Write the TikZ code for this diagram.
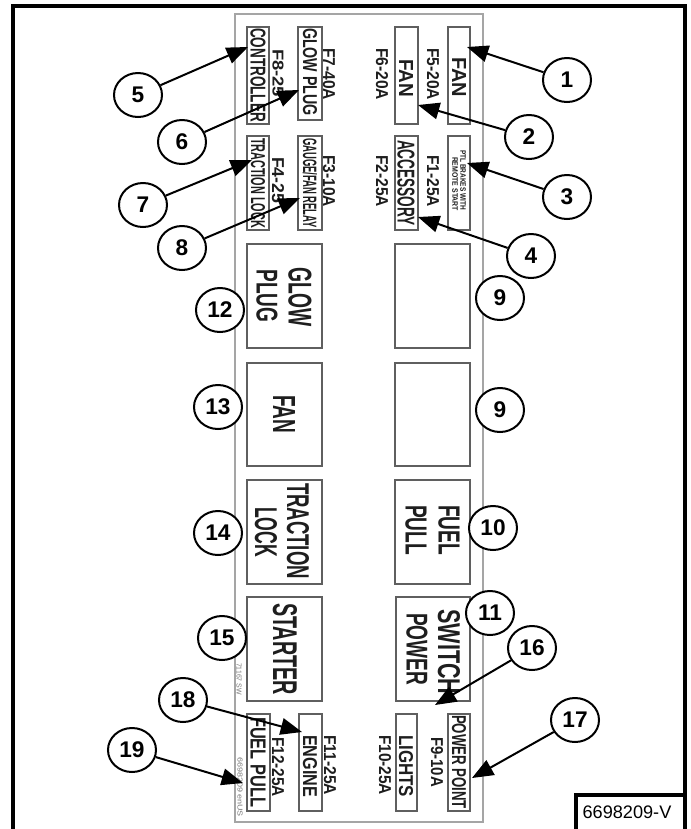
\documentclass[tikz,border=0pt]{standalone}
\usepackage{fontspec}
\setmainfont{Liberation Sans}
\usepackage{graphicx}
\usetikzlibrary{arrows.meta,shapes.geometric,fit}
\newlength\pxu \setlength\pxu{0.75pt}
\newcommand\rt[3]{\resizebox{#1\pxu}{#2\pxu}{\textbf{#3}}}
\newcommand\rtn[3]{\resizebox{#1\pxu}{#2\pxu}{#3}}
\definecolor{panelgray}{RGB}{165,165,165}
\definecolor{boxgray}{RGB}{95,95,95}
\definecolor{inkgray}{RGB}{30,30,30}
\definecolor{tinygray}{RGB}{120,120,120}
\begin{document}
\begin{tikzpicture}[x=0.75pt,y=-0.75pt,
  fbox/.style={draw=boxgray,line width=1.1pt,inner sep=0pt},
  lbl/.style={rotate=-90,inner sep=0pt,text=inkgray},
  tiny/.style={rotate=-90,inner sep=0pt,text=tinygray},
  callout/.style={ellipse,draw=black,fill=white,line width=1.5pt,minimum width=36pt,minimum height=33pt,inner sep=0pt,font=\fontsize{17}{17}\selectfont\bfseries},
  ptr/.style={line width=1.5pt,-{Triangle[length=16pt,width=12.5pt]}},
]
\useasboundingbox (0,0) rectangle (691,829);
\fill[white] (0,0) rectangle (691,829);
% outer frame
\draw[line width=2.4pt,line join=miter] (13,831) -- (13,6) -- (685,6) -- (685,831);
\draw[line width=2.4pt] (576,831) -- (576,795) -- (685,795);
\node[inner sep=0pt] (code) at (627,812) {\fontsize{13.6}{14}\selectfont 6698209-V};
% panel
\node[draw=panelgray,line width=1.5pt,inner sep=0pt,fit={(235,14) (483,822)}] (panel) {};
% ---------- top row of fuses ----------
\node[fbox,fit={(247,27) (269,124)}] (b8) {};
\node[lbl] (l8) at (258,75) {\rt{94}{15}{CONTROLLER}};
\node[lbl] (f8) at (278,73) {\rt{48}{11}{F8-25}};
\node[fbox,fit={(298,27) (322,120)}] (b7) {};
\node[lbl] (l7) at (310,72) {\rt{88}{14}{GLOW PLUG}};
\node[lbl] (f7) at (329,74) {\rt{52}{12}{F7-40A}};
\node[fbox,fit={(395,27) (418,124)}] (b6) {};
\node[lbl] (l6) at (406,78) {\rt{38}{14}{FAN}};
\node[lbl] (f6) at (382,74) {\rt{52}{12}{F6-20A}};
\node[fbox,fit={(448,27) (470,124)}] (b5) {};
\node[lbl] (l5) at (459,77) {\rt{40}{14}{FAN}};
\node[lbl] (f5) at (433,74) {\rt{52}{12}{F5-20A}};
% ---------- second row ----------
\node[fbox,fit={(247,136) (269,230)}] (b4) {};
\node[lbl] (l4) at (258,183) {\rt{90}{14}{TRACTION LOCK}};
\node[lbl] (f4) at (278,180) {\rt{46}{12}{F4-25}};
\node[fbox,fit={(298,136) (322,230)}] (b3) {};
\node[lbl] (l3) at (310,183) {\rt{90}{14}{GAUGE/FAN RELAY}};
\node[lbl] (f3) at (329,181) {\rt{52}{12}{F3-10A}};
\node[fbox,fit={(395,136) (418,230)}] (b2) {};
\node[lbl] (l2) at (406,183) {\rt{86}{17}{ACCESSORY}};
\node[lbl] (f2) at (382,181) {\rt{52}{12}{F2-25A}};
\node[fbox,fit={(448,136) (470,230)}] (b1) {};
\node[lbl] (l1a) at (463,180) {\rt{60}{5.5}{PTL BRAKES WITH}};
\node[lbl] (l1b) at (455,184) {\rt{54}{5.5}{REMOTE START}};
\node[lbl] (f1) at (433,181) {\rt{52}{12}{F1-25A}};
% ---------- relays ----------
\node[fbox,fit={(247,244) (322,348)}] (rGlow) {};
\node[lbl] (rGlowA) at (300,297) {\rt{60}{23}{GLOW}};
\node[lbl] (rGlowB) at (267,296) {\rt{53}{21}{PLUG}};
\node[fbox,fit={(395,244) (470,348)}] (rE1) {};
\node[fbox,fit={(247,363) (322,466)}] (rFan) {};
\node[lbl] (rFanA) at (284,414) {\rt{38}{22}{FAN}};
\node[fbox,fit={(395,363) (470,466)}] (rE2) {};
\node[fbox,fit={(247,480) (322,584)}] (rTrac) {};
\node[lbl] (rTracA) at (298,531) {\rt{96}{22}{TRACTION}};
\node[lbl] (rTracB) at (266,532) {\rt{50}{22}{LOCK}};
\node[fbox,fit={(395,480) (470,584)}] (rFuel) {};
\node[lbl] (rFuelA) at (449,530) {\rt{50}{21}{FUEL}};
\node[lbl] (rFuelB) at (416,530) {\rt{50}{21}{PULL}};
\node[fbox,fit={(247,597) (322,701)}] (rStart) {};
\node[lbl] (rStartA) at (285,649) {\rt{92}{24}{STARTER}};
\node[fbox,fit={(396,597) (470,701)}] (rSw) {};
\node[lbl] (rSwA) at (449,652) {\rt{85}{22}{SWITCH}};
\node[lbl] (rSwB) at (417,649) {\rt{72}{21}{POWER}};
% ---------- bottom row ----------
\node[fbox,fit={(247,714) (270,811)}] (b12) {};
\node[lbl] (l12) at (258,762) {\rt{90}{15}{FUEL PULL}};
\node[lbl] (f12) at (278,767) {\rt{60}{12}{F12-25A}};
\node[fbox,fit={(299,714) (322,811)}] (b11) {};
\node[lbl] (l11) at (310,766) {\rt{62}{14}{ENGINE}};
\node[lbl] (f11) at (330,765) {\rt{60}{12}{F11-25A}};
\node[fbox,fit={(396,714) (417,811)}] (b10) {};
\node[lbl] (l10) at (406,766) {\rt{62}{14}{LIGHTS}};
\node[lbl] (f10) at (385,765) {\rt{60}{12}{F10-25A}};
\node[fbox,fit={(448,714) (470,811)}] (b9) {};
\node[lbl] (l9) at (459,762) {\rt{94}{14}{POWER POINT}};
\node[lbl] (f9) at (437,762) {\rt{50}{12}{F9-10A}};
% tiny marks
\node[tiny] (m1) at (239,679) {\rtn{32}{5}{71167 SW}};
\node[tiny] (m2) at (240,787) {\rtn{60}{5}{6698209 enUS}};
% ---------- callouts ----------
\node[callout] (c1) at (567,80) {1};
\node[callout] (c2) at (529,137) {2};
\node[callout] (c3) at (567,197) {3};
\node[callout] (c4) at (531,256) {4};
\node[callout] (c5) at (138,95) {5};
\node[callout] (c6) at (182,142) {6};
\node[callout] (c7) at (143,205) {7};
\node[callout] (c8) at (182,248) {8};
\node[callout] (c9a) at (500,298) {9};
\node[callout] (c9b) at (500,410) {9};
\node[callout] (c10) at (493,528) {10};
\node[callout] (c11) at (490,613) {11};
\node[callout] (c12) at (220,310) {12};
\node[callout] (c13) at (218,407) {13};
\node[callout] (c14) at (218,533) {14};
\node[callout] (c15) at (222,638) {15};
\node[callout] (c16) at (532,648) {16};
\node[callout] (c17) at (575,720) {17};
\node[callout] (c18) at (183,700) {18};
\node[callout] (c19) at (132,750) {19};
% arrow tips
\coordinate (t1) at (467,47);
\coordinate (t2) at (418,105);
\coordinate (t3) at (467,163);
\coordinate (t4) at (418,217);
\coordinate (t5) at (248,47);
\coordinate (t6) at (299,90);
\coordinate (t7) at (252,160);
\coordinate (t8) at (300,198);
\coordinate (t16) at (435,705);
\coordinate (t17) at (472,778);
\coordinate (t18) at (302,732);
\coordinate (t19) at (243,783);
\foreach \n in {1,2,3,4,5,6,7,8,16,17,18,19}{\draw[ptr] (c\n) -- (t\n);}
\end{tikzpicture}
\end{document}
